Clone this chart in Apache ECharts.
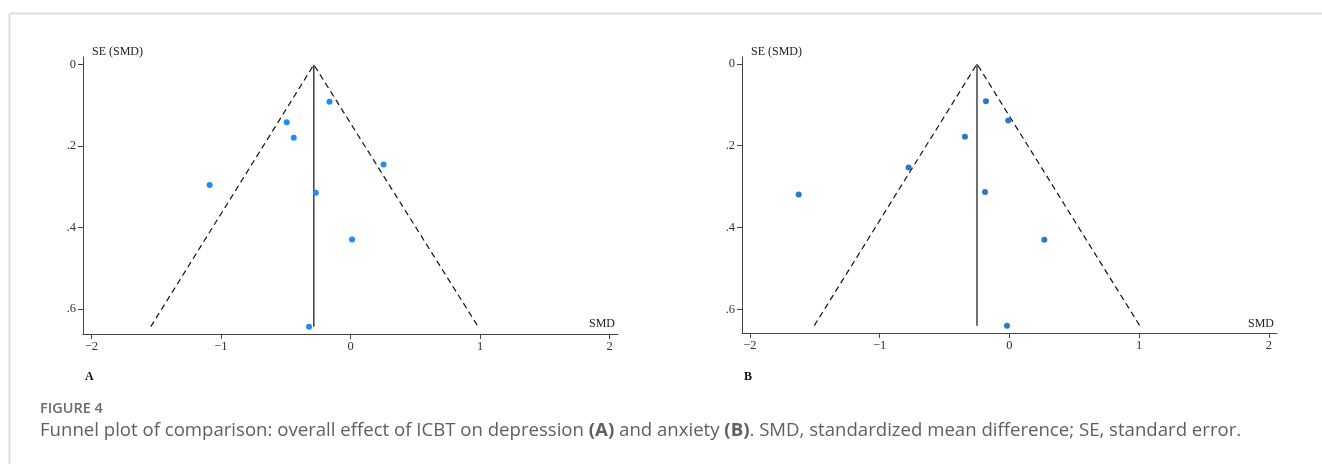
<!DOCTYPE html>
<html>
<head>
<meta charset="utf-8">
<script src="https://cdn.jsdelivr.net/npm/echarts@6/dist/echarts.min.js"></script>
<style>
html,body{margin:0;padding:0;background:#fff;}
#c{width:1322px;height:464px;}
</style>
</head>
<body>
<div id="c"></div>
<script>
// ---- data ----
const xTicks = [-2, -1, 0, 1, 2];
const yTicks = [0, 0.2, 0.4, 0.6];
const yTickLabels = ['0', '.2', '.4', '.6'];

// Panel A: depression
const smdA = [-0.162, -0.492, -0.438, -1.087, -0.268, 0.255, 0.012, -0.320];
const seA  = [0.091, 0.141, 0.179, 0.295, 0.314, 0.245, 0.429, 0.643];
const pooledA = -0.283;
const funnelA_x = [-1.542, -0.283, 0.985];
const funnelA_se = [0.643, 0, 0.643];

// Panel B: anxiety
const smdB = [-0.180, -0.008, -0.342, -0.776, -1.623, -0.187, 0.270, -0.018];
const seB  = [0.091, 0.138, 0.178, 0.253, 0.319, 0.313, 0.430, 0.640];
const pooledB = -0.249;
const funnelB_x = [-1.503, -0.249, 1.005];
const funnelB_se = [0.640, 0, 0.640];

const pairs = (xs, ys) => xs.map((v, i) => [v, ys[i]]);
const serif = '"Liberation Serif", "DejaVu Serif", serif';

function xAxisCfg(idx, min, max) {
  return {
    type: 'value', gridIndex: idx, min: min, max: max,
    splitLine: {show: false},
    axisLine: {onZero: false, lineStyle: {color: '#444', width: 1}},
    axisTick: {show: true, length: 5, customValues: xTicks, lineStyle: {color: '#444'}},
    axisLabel: {customValues: xTicks, color: '#333', fontFamily: serif, fontSize: 12.5, margin: 6,
      formatter: v => (v < 0 ? '\u2212' + Math.abs(v) : String(v))}
  };
}
function yAxisCfg(idx, min, max) {
  return {
    type: 'value', gridIndex: idx, min: min, max: max, inverse: true,
    splitLine: {show: false},
    axisLine: {onZero: false, lineStyle: {color: '#444', width: 1}},
    axisTick: {show: true, length: 5, customValues: yTicks, lineStyle: {color: '#444'}},
    axisLabel: {customValues: yTicks, color: '#333', fontFamily: serif, fontSize: 12.5, margin: 7,
      formatter: v => yTickLabels[yTicks.findIndex(t => Math.abs(t - v) < 1e-6)] || ''}
  };
}

function panelSeries(idx, smd, se, pooled, fx, fse, color) {
  return [
    {type: 'line', xAxisIndex: idx, yAxisIndex: idx, data: pairs(fx, fse), symbol: 'none',
     lineStyle: {color: '#111', width: 1.2, type: [6, 4]}, silent: true, z: 2},
    {type: 'line', xAxisIndex: idx, yAxisIndex: idx, data: [[pooled, fse[1]], [pooled, fse[0]]], symbol: 'none',
     lineStyle: {color: '#111', width: 1.2}, silent: true, z: 2},
    {type: 'scatter', xAxisIndex: idx, yAxisIndex: idx, data: pairs(smd, se), symbolSize: 6,
     itemStyle: {color: color, opacity: 1}, z: 3}
  ];
}

const chart = echarts.init(document.getElementById('c'), null, {renderer: 'canvas'});
const captionFont = '"Open Sans", "Noto Sans", sans-serif';
chart.setOption({
  backgroundColor: '#fff',
  animation: false,
  grid: [
    {left: 83, top: 57, width: 535, height: 277},
    {left: 742, top: 57, width: 535, height: 276}
  ],
  xAxis: [xAxisCfg(0, -2.065, 2.065), xAxisCfg(1, -2.06, 2.063)],
  yAxis: [yAxisCfg(0, -0.019, 0.661), yAxisCfg(1, -0.017, 0.658)],
  series: [].concat(
    panelSeries(0, smdA, seA, pooledA, funnelA_x, funnelA_se, '#1f8cf5'),
    panelSeries(1, smdB, seB, pooledB, funnelB_x, funnelB_se, '#2c76cc')
  ),
  graphic: [
    {type: 'line', shape: {x1: 9.5, y1: 13.5, x2: 1322, y2: 13.5}, style: {stroke: '#dedede', lineWidth: 2}},
    {type: 'line', shape: {x1: 9.5, y1: 13.5, x2: 9.5, y2: 464}, style: {stroke: '#dedede', lineWidth: 2}},
    {type: 'text', left: 92, top: 46, style: {text: 'SE (SMD)', font: '12px ' + serif, fill: '#222'}},
    {type: 'text', left: 751, top: 46, style: {text: 'SE (SMD)', font: '12px ' + serif, fill: '#222'}},
    {type: 'text', left: 589, top: 318, style: {text: 'SMD', font: '12px ' + serif, fill: '#222'}},
    {type: 'text', left: 1248, top: 318, style: {text: 'SMD', font: '12px ' + serif, fill: '#222'}},
    {type: 'text', left: 85, top: 371, style: {text: 'A', font: 'bold 12px ' + serif, fill: '#111'}},
    {type: 'text', left: 744, top: 371, style: {text: 'B', font: 'bold 12px ' + serif, fill: '#111'}},
    {type: 'text', left: 40, top: 401, style: {text: 'FIGURE 4', font: '600 14.5px ' + captionFont, fill: '#6a6a6a'}},
    {type: 'text', left: 40, top: 421, style: {
      text: 'Funnel plot of comparison: overall effect of ICBT on depression {b|(A)} and anxiety {b|(B)}. SMD, standardized mean difference; SE, standard error.',
      font: '18.6px ' + captionFont, fill: '#5f5f5f',
      rich: {b: {font: 'bold 18.6px ' + captionFont, fill: '#5f5f5f'}}
    }}
  ]
});
</script>
</body>
</html>
